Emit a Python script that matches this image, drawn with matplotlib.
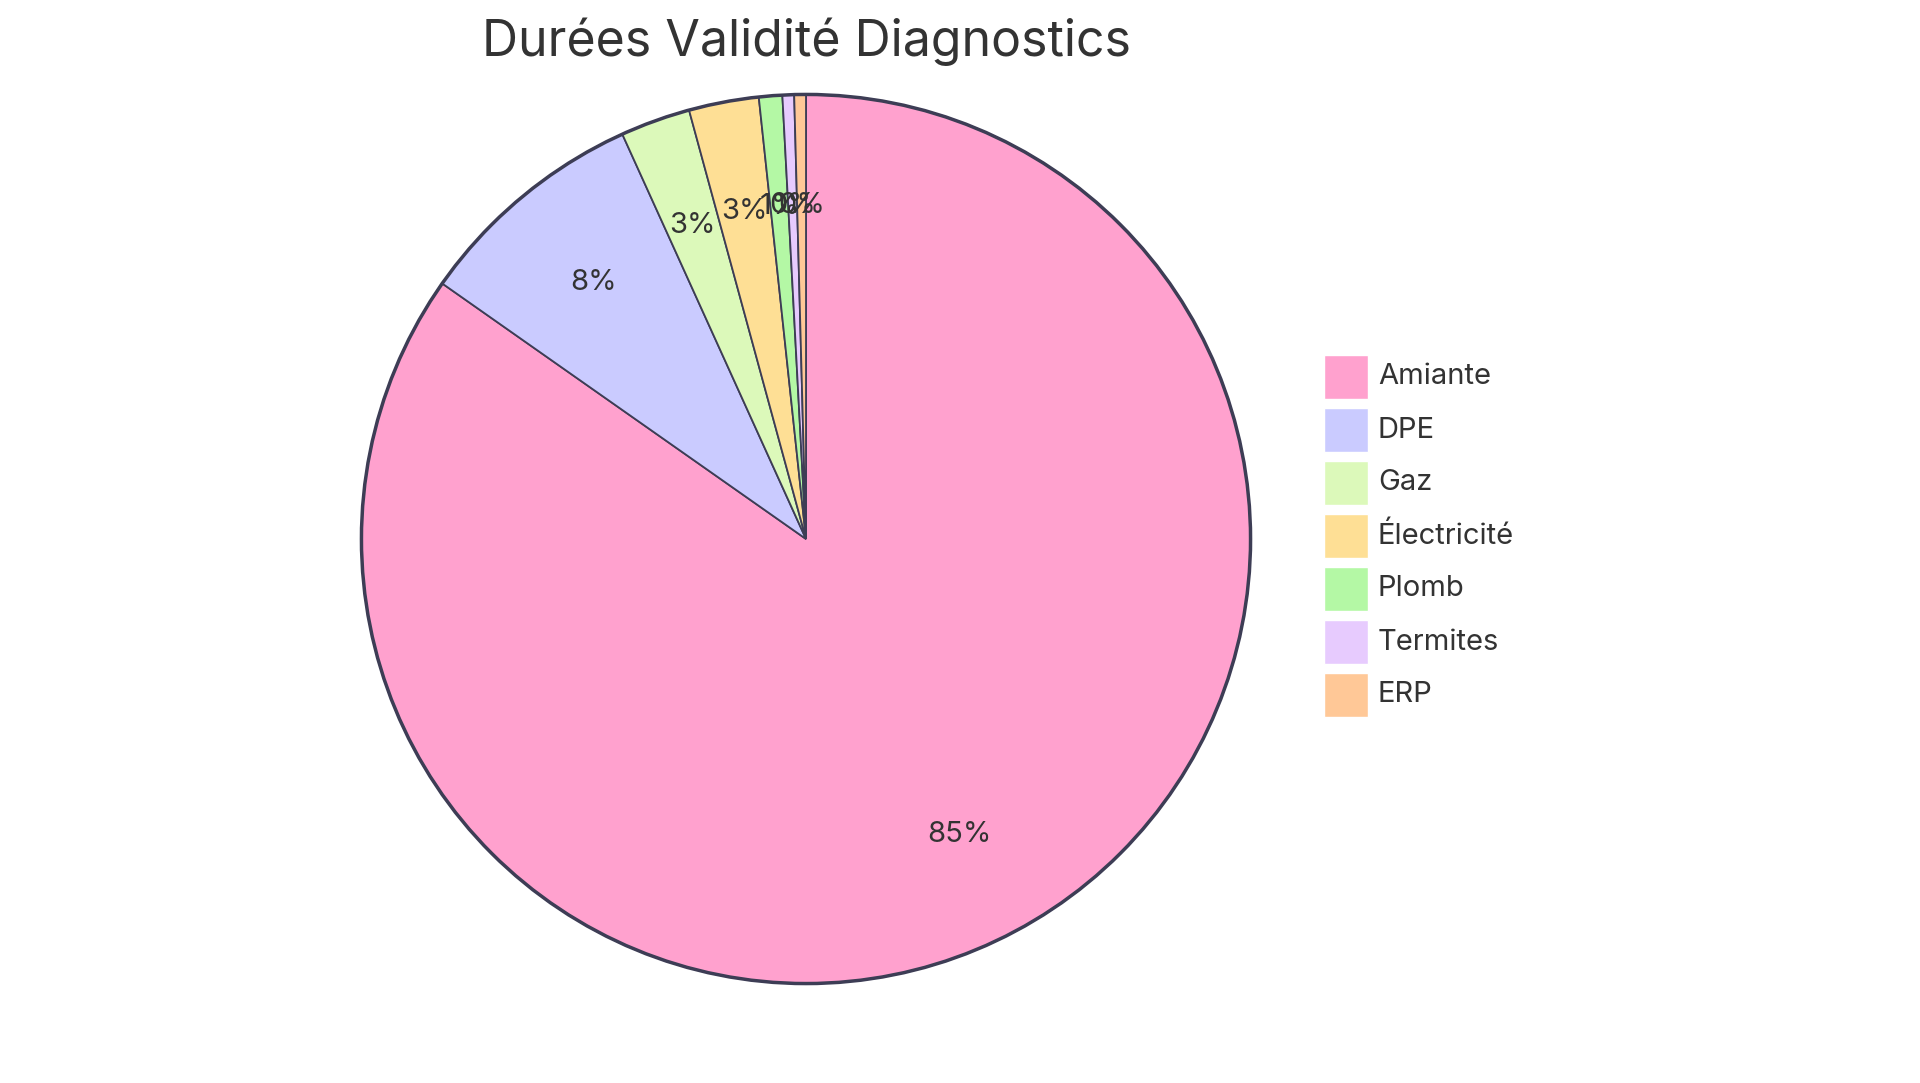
import matplotlib
matplotlib.use("Agg")
import matplotlib.pyplot as plt
from matplotlib.patches import Rectangle

labels = ["Amiante", "DPE", "Gaz", "Électricité", "Plomb", "Termites", "ERP"]
values = [100, 10, 3, 3, 1, 0.5, 0.5]
colors = ["#FFA1CE", "#CACBFF", "#DCF9BA", "#FEDF95", "#B4F8A5", "#E7CBFE", "#FFC897"]
title = "Durées Validité Diagnostics"

plt.rcParams['font.family'] = ['Inter', 'DejaVu Sans']
W, H = 1920, 1083
fig = plt.figure(figsize=(W/100, H/100), dpi=100)
cx, cy, r = 806, 539, 449
ax = fig.add_axes([(cx-r)/W, (H-cy-r)/H, 2*r/W, 2*r/H])
total = sum(values)
wedges, texts = ax.pie(values, colors=colors, startangle=90, counterclock=False,
       labels=[f"{round(v/total*100)}%" for v in values], labeldistance=0.75,
       wedgeprops=dict(edgecolor="#3d3d55", linewidth=1.3),
       textprops=dict(fontsize=21, color="#333333", ha="center", va="center"))
ax.add_patch(plt.Circle((0, 0), 1, fill=False, edgecolor="#3d3d55", linewidth=2.5))
ax.set_xlim(-1.01, 1.01); ax.set_ylim(-1.01, 1.01)
ax.set_aspect('equal'); ax.axis('off')

fig.text(806/W, 1-42/H, title, ha="center", va="center", fontsize=36, color="#333333")

lx, ly0, step, sz = 1324, 377, 53, 44
for i, (lab, c) in enumerate(zip(labels, colors)):
    y = ly0 + i*step
    fig.patches.append(Rectangle((lx/W, 1-(y+sz/2)/H), sz/W, sz/H, transform=fig.transFigure,
                                 facecolor=c, edgecolor="white", linewidth=1))
    fig.text((lx+54)/W, 1-y/H, lab, ha="left", va="center", fontsize=21, color="#333333")

fig.savefig("out.png", dpi=100, facecolor="white")
